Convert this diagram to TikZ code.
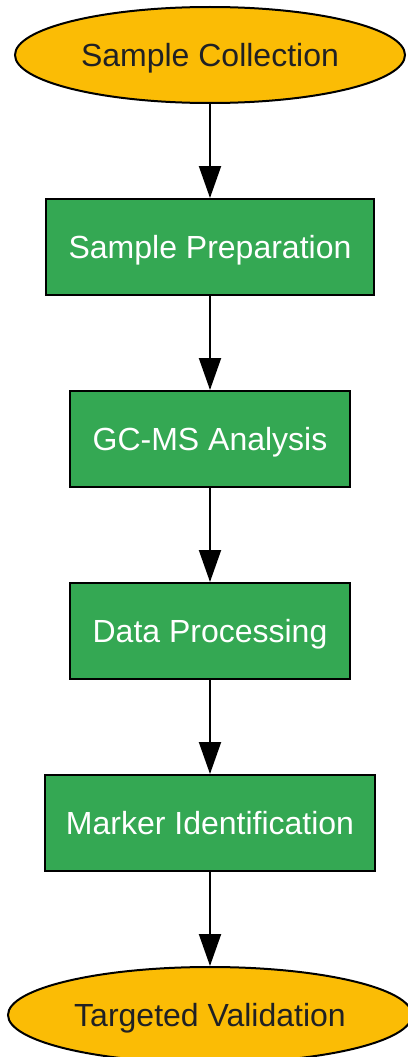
\documentclass[tikz,border=0pt]{standalone}
\usepackage{fontspec}
\setmainfont{Liberation Sans}
\usetikzlibrary{shapes.geometric,arrows.meta}
\definecolor{gyellow}{HTML}{FBBC05}
\definecolor{ggreen}{HTML}{34A853}
\definecolor{darktext}{HTML}{202124}
\tikzset{
  terminal/.style={ellipse, draw=black, line width=2pt, fill=gyellow, text=darktext,
    minimum height=96pt, inner sep=0pt, text height=23pt, text depth=0pt,
    font=\fontsize{32}{38}\selectfont},
  procbox/.style={rectangle, draw=black, line width=2pt, fill=ggreen, text=white,
    minimum height=96pt, inner sep=0pt, text height=23pt, text depth=0pt,
    font=\fontsize{32}{38}\selectfont},
  flow/.style={draw=black, line width=2pt, -{Triangle[length=32pt,width=22pt]}}
}
\begin{document}
\begin{tikzpicture}[x=1pt,y=-1pt]
\useasboundingbox (0,0) rectangle (407,1057);
\node[terminal, minimum width=390pt] (n0) at (210,55) {Sample Collection};
\node[procbox, minimum width=328pt] (n1) at (210,247) {Sample Preparation};
\node[procbox, minimum width=280pt] (n2) at (210,439) {GC-MS Analysis};
\node[procbox, minimum width=280pt] (n3) at (210,631) {Data Processing};
\node[procbox, minimum width=330pt] (n4) at (210,823) {Marker Identification};
\node[terminal, minimum width=404pt] (n5) at (210,1015) {Targeted Validation};
\draw[flow] (n0) -- (n1);
\draw[flow] (n1) -- (n2);
\draw[flow] (n2) -- (n3);
\draw[flow] (n3) -- (n4);
\draw[flow] (n4) -- (n5);
\end{tikzpicture}
\end{document}
